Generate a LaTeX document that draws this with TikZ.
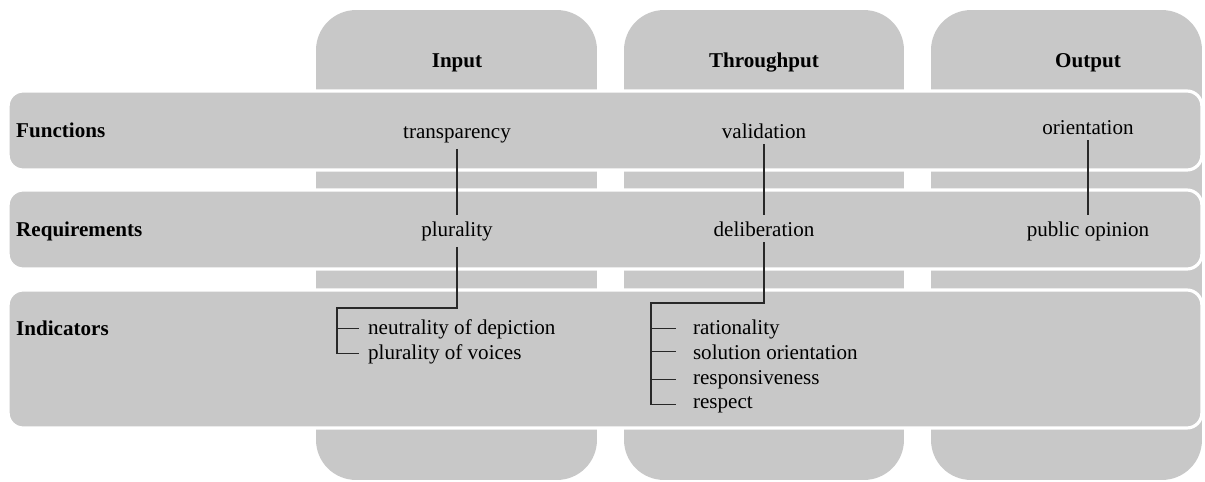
\documentclass[tikz,border=0pt]{standalone}
\usepackage{fontspec}
\setmainfont{Liberation Serif}
\usetikzlibrary{positioning}
\usepackage{xcolor}
\definecolor{panelgray}{RGB}{200,200,200}
\definecolor{linkgray}{RGB}{40,40,40}

\begin{document}
\begin{tikzpicture}[
    x=0.02cm, y=-0.02cm,
    font=\fontsize{12}{14}\selectfont,
    column/.style={fill=panelgray, rounded corners=0.8cm, minimum height=9.4cm, inner sep=0pt},
    band/.style={draw=white, line width=1.8pt, fill=panelgray, rounded corners=0.3cm, minimum width=23.88cm, inner sep=0pt},
    head/.style={anchor=base, font=\fontsize{12}{14}\selectfont\bfseries},
    rowname/.style={anchor=base west, font=\fontsize{12}{14}\selectfont\bfseries},
    term/.style={anchor=base},
    item/.style={anchor=base west, inner xsep=5pt},
    link/.style={draw=linkgray, line width=0.6pt}
  ]
    \useasboundingbox (0,0) rectangle (1205,481);

    \node[column, minimum width=5.62cm] (input) at (456.5,245) {};
    \node[column, minimum width=5.6cm] (throughput) at (764,245) {};
    \node[column, minimum width=5.42cm] (output) at (1066.5,245) {};

    \node[head] (inputhead) at (457,67) {Input};
    \node[head] (throughputhead) at (764,67) {Throughput};
    \node[head] (outputhead) at (1088,67) {Output};

    \node[band, minimum height=1.58cm] (functions) at (605,130.5) {};
    \node[band, minimum height=1.58cm] (requirements) at (605,229.5) {};
    \node[band, minimum height=2.76cm] (indicators) at (605,359) {};

    \node[rowname] (functionsname) at (10,137) {Functions};
    \node[rowname] (requirementsname) at (10,236) {Requirements};
    \node[rowname] (indicatorsname) at (10,335) {Indicators};

    \node[term] (transparency) at (457,138) {transparency};
    \node[term] (validation) at (764,138) {validation};
    \node[term] (orientation) at (1088,134) {orientation};
    \node[term] (plurality) at (457,236) {plurality};
    \node[term] (deliberation) at (764,236) {deliberation};
    \node[term] (publicopinion) at (1088,236) {public opinion};

    \coordinate (inputbranch) at (337,308);
    \coordinate (throughputbranch) at (651,303);
    \node[item] (neutrality) at (359,334) {neutrality of depiction};
    \node[item] (voices) at (359,359) {plurality of voices};
    \node[item, inner xsep=9.5pt] (rationality) at (676,334) {rationality};
    \node[item, inner xsep=9.5pt] (solution) at (676,359) {solution orientation};
    \node[item, inner xsep=9.5pt] (responsiveness) at (676,384) {responsiveness};
    \node[item, inner xsep=9.5pt] (respect) at (676,408) {respect};

    \draw[link] (transparency) -- (plurality);
    \draw[link] (validation) -- (deliberation);
    \draw[link] (orientation) -- (publicopinion);
    \draw[link] (plurality) |- (inputbranch) |- (voices);
    \draw[link] (inputbranch |- neutrality.west) -- (neutrality);
    \draw[link] (deliberation) |- (throughputbranch) |- (respect);
    \draw[link] (throughputbranch |- rationality.west) -- (rationality);
    \draw[link] (throughputbranch |- solution.west) -- (solution);
    \draw[link] (throughputbranch |- responsiveness.west) -- (responsiveness);
  \end{tikzpicture}
\end{document}
